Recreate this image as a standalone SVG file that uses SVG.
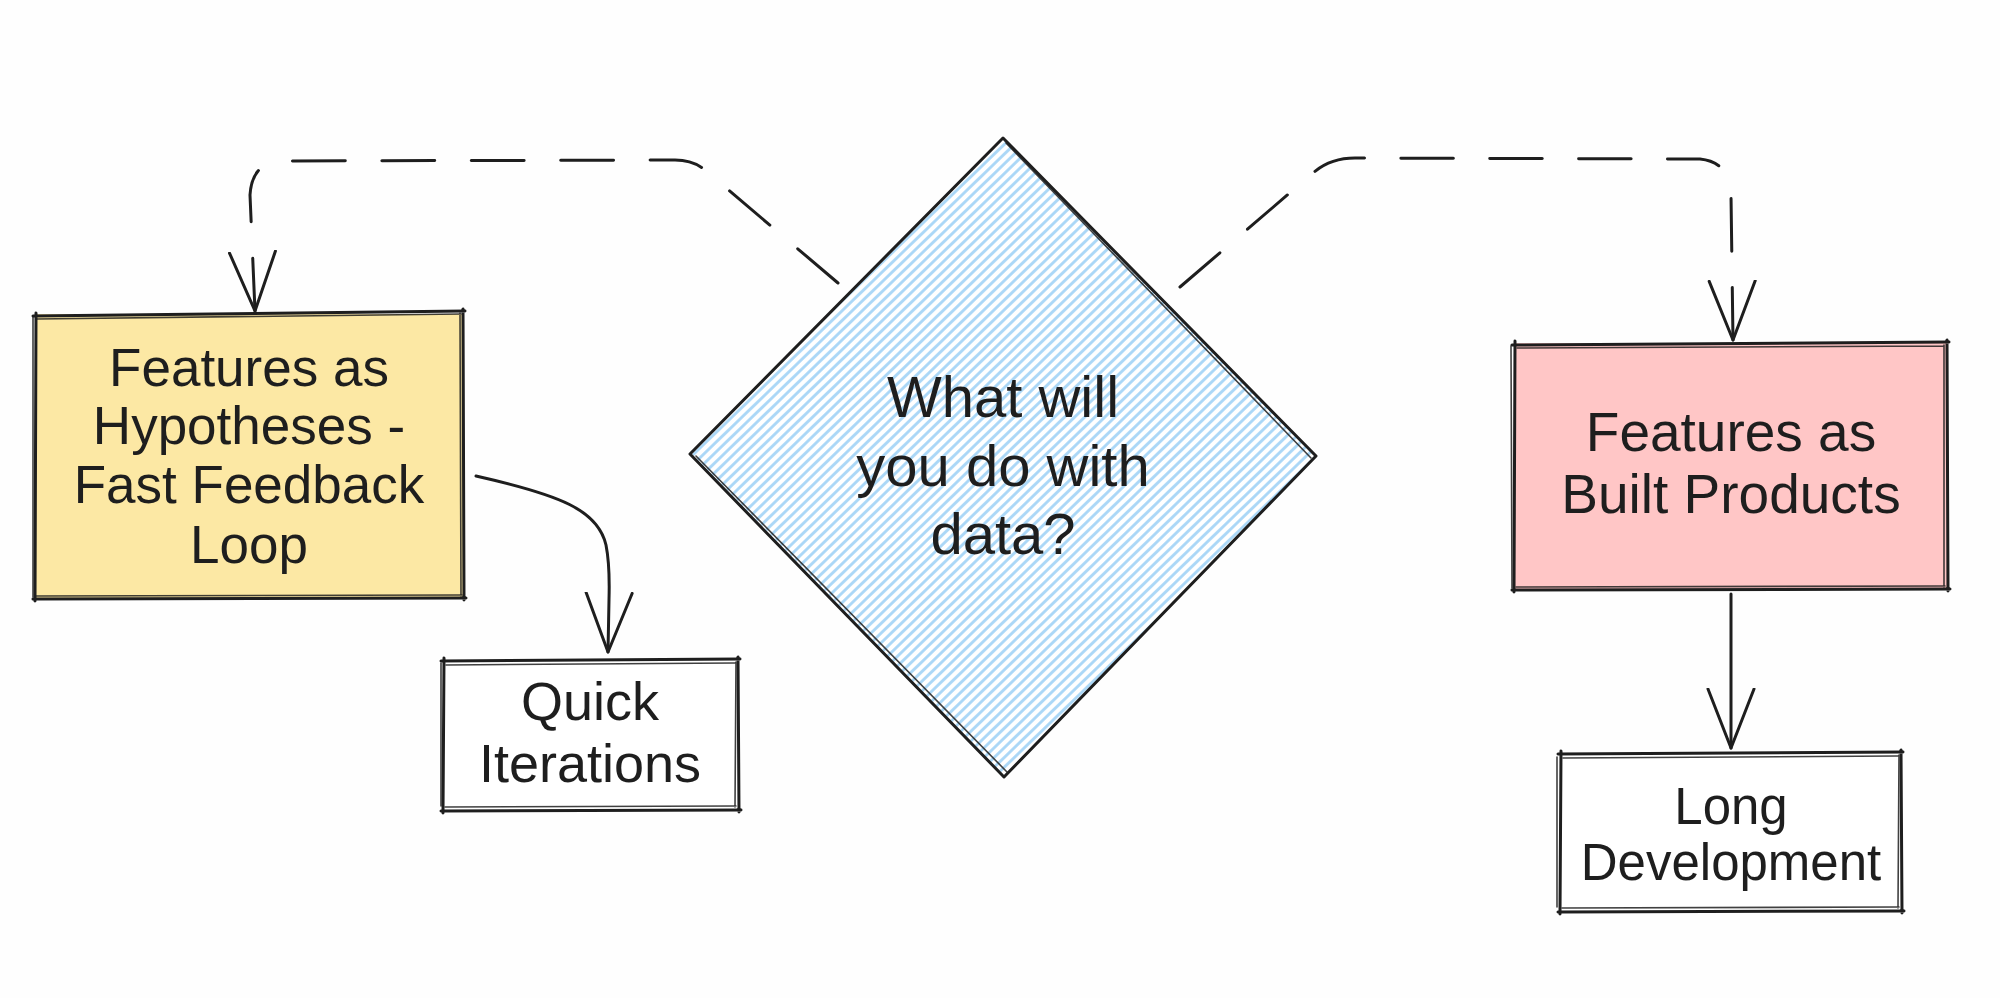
<svg xmlns="http://www.w3.org/2000/svg" width="2000" height="998" viewBox="0 0 2000 998">
<style>
  .bg { fill: #fefefe; }
  .edge { fill: none; stroke: #1e1e1e; stroke-width: 3; stroke-linecap: round; stroke-linejoin: round; }
  .edge2 { fill: none; stroke: #1e1e1e; stroke-width: 1.6; stroke-linecap: round; stroke-linejoin: round; opacity: 0.85; }
  .lbl { font-family: "Liberation Sans", Arial, sans-serif; fill: #1e1e1e; text-anchor: middle; }
  .conn { fill: none; stroke: #1e1e1e; stroke-width: 3; stroke-linecap: round; stroke-linejoin: round; }
  .dash { stroke-dasharray: 68.8 47.6; }
</style>
<defs>
  <pattern id="hatch" patternUnits="userSpaceOnUse" width="20" height="7" patternTransform="rotate(-44)">
    <rect width="20" height="7" fill="#ffffff"/>
    <line x1="0" y1="3.5" x2="20" y2="3.5" stroke="#a8d6f7" stroke-width="2.8"/>
  </pattern>
  <marker id="arrow" viewBox="0 0 62 50" refX="60" refY="25" markerWidth="62" markerHeight="50" markerUnits="userSpaceOnUse" orient="auto">
    <path d="M1,2 L60,25 L1,48" fill="none" stroke="#1e1e1e" stroke-width="3" stroke-linecap="round" stroke-linejoin="round"/>
  </marker>
</defs>
<rect class="bg" x="0" y="0" width="2000" height="998"/>

<g id="connectors">
  <path class="conn dash" pathLength="1000" d="M838,283 L705,170 Q693,160 675,160 L280,161 Q252,163 250,195 L255,311" marker-end="url(#arrow)"/>
  <path class="conn dash" pathLength="1000" d="M1180,287 L1313,173 Q1330,158 1355,158 L1700,159 Q1730,162 1731,195 L1733,340" marker-end="url(#arrow)"/>
  <path class="conn" d="M476,476 C560,495 598,510 606,545 Q610,565 609,600 L608,652" marker-end="url(#arrow)"/>
  <path class="conn" d="M1731,594 L1731,748" marker-end="url(#arrow)"/>
</g>

<g id="node-hypotheses">
  <rect x="35" y="314" width="428" height="284" fill="#fce8a4"/>
  <path class="edge" d="M33,316 L465,311 M463,309 L464,600 M466,598 L33,599 M35,601 L36,313"/>
  <path class="edge2" d="M37,319 L461,314 M460,313 L461,596 M462,595 L36,596 M33,597 L33,316"/>
  <text class="lbl" font-size="53" x="249" y="386">Features as</text>
  <text class="lbl" font-size="53" x="249" y="444">Hypotheses -</text>
  <text class="lbl" font-size="53" x="249" y="503">Fast Feedback</text>
  <text class="lbl" font-size="53" x="249" y="563">Loop</text>
</g>

<g id="node-decision">
  <polygon points="1003,140 1315,456 1004,775 692,454" fill="url(#hatch)"/>
  <path class="edge" d="M1003,138 L1316,456 L1004,777 L690,454 Z"/>
  <path class="edge2" d="M1006,143 L1311,458 M1007,772 L696,456"/>
  <text class="lbl" font-size="58" x="1003" y="417">What will</text>
  <text class="lbl" font-size="58" x="1003" y="486">you do with</text>
  <text class="lbl" font-size="58" x="1003" y="554">data?</text>
</g>

<g id="node-built">
  <rect x="1514" y="343" width="433" height="246" fill="#ffc6c6"/>
  <path class="edge" d="M1512,345 L1949,342 M1947,340 L1948,591 M1950,589 L1512,590 M1514,592 L1515,341"/>
  <path class="edge2" d="M1517,348 L1944,346 M1944,345 L1944,587 M1945,586 L1516,587 M1512,588 L1511,346"/>
  <text class="lbl" font-size="55" x="1731" y="451">Features as</text>
  <text class="lbl" font-size="55" x="1731" y="513">Built Products</text>
</g>

<g id="node-quick">
  <rect x="443" y="660" width="295" height="150" fill="#ffffff"/>
  <path class="edge" d="M441,661 L740,659 M738,657 L739,812 M741,810 L441,811 M443,813 L444,658"/>
  <path class="edge2" d="M446,665 L735,663 M736,662 L735,807 M736,806 L445,807 M441,806 L441,663"/>
  <text class="lbl" font-size="54" x="590" y="720">Quick</text>
  <text class="lbl" font-size="54" x="590" y="782">Iterations</text>
</g>

<g id="node-long">
  <rect x="1560" y="753" width="341" height="158" fill="#ffffff"/>
  <path class="edge" d="M1558,754 L1903,752 M1901,750 L1902,913 M1904,911 L1558,912 M1560,914 L1561,751"/>
  <path class="edge2" d="M1563,758 L1898,756 M1899,755 L1898,908 M1899,907 L1562,908 M1557,907 L1557,757"/>
  <text class="lbl" font-size="51" x="1731" y="824">Long</text>
  <text class="lbl" font-size="51" x="1731" y="880">Development</text>
</g>
</svg>
